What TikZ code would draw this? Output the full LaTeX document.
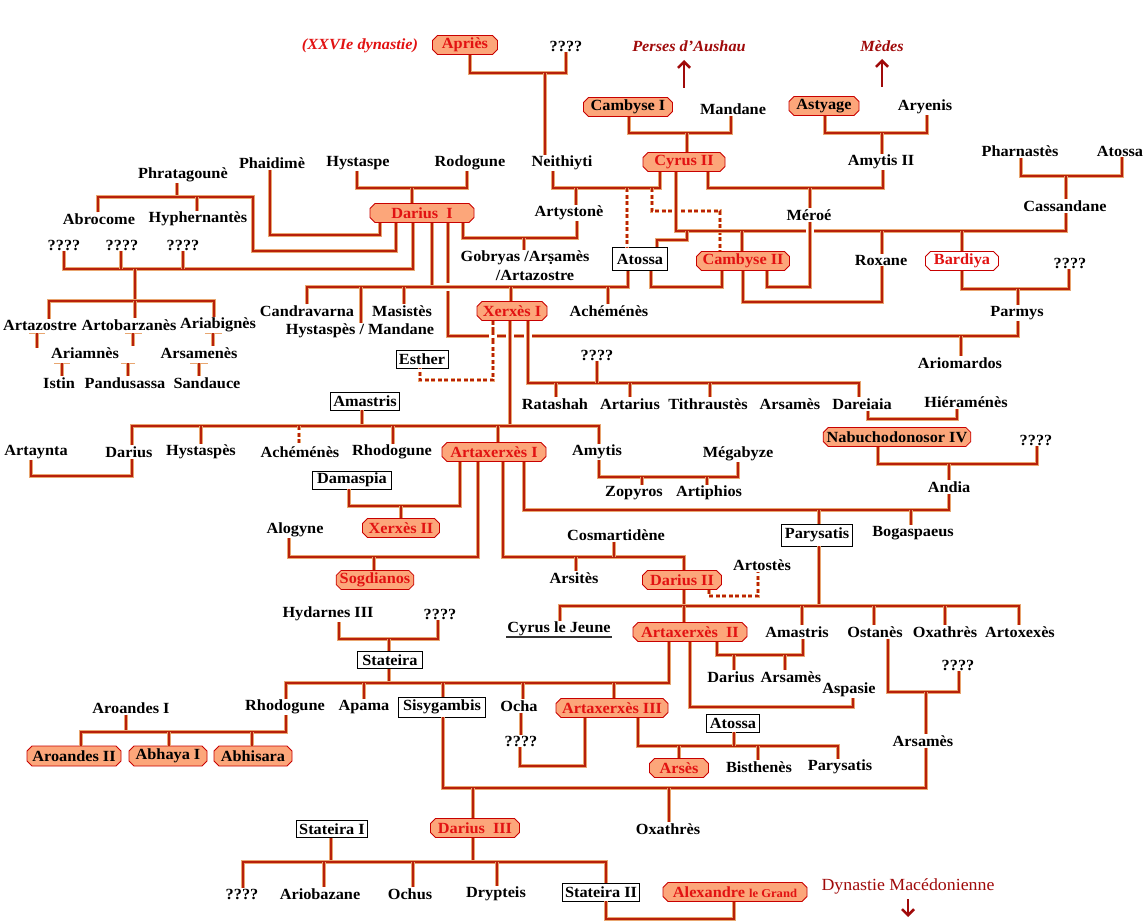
\documentclass[tikz,border=0pt]{standalone}
\usepackage{fontspec}
\setmainfont{Liberation Serif}[FakeStretch=1.05]
\usetikzlibrary{shapes.misc,arrows.meta}
\definecolor{lnred}{RGB}{184,32,10}
\definecolor{lntan}{RGB}{232,166,112}
\definecolor{salm}{RGB}{252,166,122}
\definecolor{kred}{RGB}{200,0,0}
\definecolor{tred}{RGB}{226,18,18}
\definecolor{dred}{RGB}{160,10,10}
\newcommand\ffs{\fontsize{15.5}{17}\selectfont\bfseries}
\newcommand\myvgap[3][ln]{\fill[white] (#2-4,#3-3) rectangle (#2+4,#3+3); \draw[#1] (#2,#3-5) -- (#2,#3+5);}
\newcommand\myhgap[2]{\fill[white] (#1-3,#2-4) rectangle (#1+3,#2+4); \draw[ln] (#1-5,#2) -- (#1+5,#2);}
\begin{document}
\begin{tikzpicture}[x=1pt,y=-1pt,
 every node/.style={font=\ffs, inner sep=1pt},
 kg/.style={chamfered rectangle, chamfered rectangle sep=2.5pt, draw=kred, line width=0.8pt, fill=salm, text=tred, minimum height=19pt, inner xsep=1pt, inner ysep=0pt},
 kgb/.style={kg, text=black},
 kgw/.style={kg, fill=white},
 bx/.style={draw=black, line width=0.9pt, fill=white, inner xsep=3pt, inner ysep=1.5pt, minimum height=18pt},
 ttl/.style={text=tred, font=\ffs\itshape},
 ttd/.style={text=dred, font=\ffs\itshape},
 ln/.style={draw=lnred, line width=1.3pt, preaction={draw=lntan, line width=3.2pt}},
 lnd/.style={draw=lnred, line width=1.3pt, dash pattern=on 4pt off 2.5pt, preaction={draw=lntan, line width=3.2pt, dash pattern=on 4pt off 2.5pt}},
 stub/.style={draw=lntan, line width=1pt},
 arr/.style={draw=dred, line width=2.2pt, -{Straight Barb[length=6pt,width=12pt,line width=2.6pt]}},
]
\fill[white] (0,0) rectangle (1148,923);
\useasboundingbox (0,0) rectangle (1148,923);

% ---------- nodes ----------
\node[ttl] (t26) at (360,46) {(XXVIe dynastie)};
\node[kg, minimum width=65pt] (apries) at (465,45) {Apriès};
\node (q1) at (566,46) {????};
\node[ttd] (perses) at (689,46) {Perses d\char39Aushau};
\node[ttd] (medes) at (882,46) {Mèdes};
\coordinate (pa) at (684,88);
\coordinate (ma) at (882,87);
\node[kgb, minimum width=89pt] (camb1) at (628,107) {Cambyse I};
\node (mandane) at (733,109) {Mandane};
\node[kg, minimum width=82pt] (cyrus2) at (684,162) {Cyrus II};
\node[kgb, minimum width=70pt] (astyage) at (824,106) {Astyage};
\node (aryenis) at (925,107) {Aryenis};
\node (amytis2) at (881,162) {Amytis II};
\node (pharn) at (1020,151) {Pharnastès};
\node (atossa0) at (1120,151) {Atossa};
\node (cassandane) at (1065,206) {Cassandane};
\node (phaidime) at (272,163) {Phaidimè};
\node (hystaspe) at (358,163) {Hystaspe};
\node (rodogune1) at (470,163) {Rodogune};
\node (neith) at (562,163) {Neithiyti};
\node (phrat) at (183,175) {Phratagounè};
\node (abrocome) at (99,219) {Abrocome};
\node (hypher) at (198,219) {Hyphernantès};
\node (q2) at (64,245) {????};
\node (q3) at (122,245) {????};
\node (q4) at (183,245) {????};
\node[kg, minimum width=104pt] (dar1) at (422,213) {Darius\ \ I};
\node (artyst) at (569,213) {Artystonè};
\node (meroe) at (809,215) {Méroé};
\node (gob1) at (525,258) {Gobryas /Ar\d{s}amès};
\node (gob2) at (535,275) {/Artazostre};
\node[bx, minimum width=55pt, minimum height=23pt] (atossa1) at (640,259) {Atossa};
\node[kg, minimum width=93pt] (camb2) at (743,261) {Cambyse II};
\node (roxane) at (881,260) {Roxane};
\node[kgw, minimum width=73pt] (bardiya) at (962,261) {Bardiya};
\node (q5) at (1070,263) {????};
\node (parmys) at (1017,313) {Parmys};
\node (candra) at (307,311) {Candravarna};
\node (masistes) at (402,311) {Masistès};
\node (hystmand) at (360,331) {Hystaspès / Mandane};
\node[kg, minimum width=70pt] (xerx1) at (512,311) {Xerxès I};
\node (achem1) at (609,311) {Achéménès};
\node (artazostre) at (40,325) {Artazostre};
\node (artobar) at (129,325) {Artobarzanès};
\node (ariabig) at (218,325) {Ariabignès};
\node (ariamnes) at (85,353) {Ariamnès};
\node (arsamenes) at (199,353) {Arsamenès};
\node (istin) at (59,383) {Istin};
\node (pandu) at (125,383) {Pandusassa};
\node (sandauce) at (207,383) {Sandauce};
\node[bx, minimum width=51pt] (esther) at (422,359) {Esther};
\node (q6) at (597,355) {????};
\node (ariom) at (960,363) {Ariomardos};
\node[bx, minimum width=66pt] (amastris1) at (365,401) {Amastris};
\node (ratashah) at (555,404) {Ratashah};
\node (artarius) at (630,404) {Artarius};
\node (tith) at (708,404) {Tithraustès};
\node (arsames1) at (790,404) {Arsamès};
\node (dareiaia) at (862,404) {Dareiaia};
\node (hieram) at (966,402) {Hiéraménès};
\node[kgb, minimum width=146pt] (nabu) at (897,437) {Nabuchodonosor IV};
\node (q7) at (1036,440) {????};
\node (artaynta) at (36,452) {Artaynta};
\node (darius2) at (129,452) {Darius};
\node (hyst2) at (201,452) {Hystaspès};
\node (achem2) at (300,452) {Achéménès};
\node (rhodo2) at (392,452) {Rhodogune};
\node[kg, minimum width=104pt] (art1) at (494,452) {Artaxerxès I};
\node (amytis) at (597,452) {Amytis};
\node (megab) at (738,454) {Mégabyze};
\node (andia) at (949,487) {Andia};
\node (zopyros) at (634,493) {Zopyros};
\node (artiph) at (709,493) {Artiphios};
\node[bx, minimum width=79pt] (damaspia) at (352,480) {Damaspia};
\node[kg, minimum width=77pt] (xerx2) at (401,528) {Xerxès II};
\node (alogyne) at (295,530) {Alogyne};
\node (cosm) at (616,535) {Cosmartidène};
\node[bx, minimum width=66pt, minimum height=22pt] (parysatis1) at (817,535) {Parysatis};
\node (bogas) at (913,533) {Bogaspaeus};
\node (artostes) at (762,565) {Artostès};
\node[kg, minimum width=76pt] (sogd) at (375,580) {Sogdianos};
\node (arsites) at (574,578) {Arsitès};
\node[kg, minimum width=79pt] (dar2) at (682,580) {Darius II};
\node (hydarnes) at (328,614) {Hydarnes III};
\node (q8) at (440,614) {????};
\node (cyrusj) at (559,629) {Cyrus le Jeune};
\node[kg, minimum width=114pt] (art2) at (690,632) {Artaxerxès\ \ II};
\node (amastris2) at (797,632) {Amastris};
\node (ostanes) at (875,632) {Ostanès};
\node (oxath1) at (945,632) {Oxathrès};
\node (artox) at (1020,632) {Artoxexès};
\node[bx, minimum width=65pt, minimum height=17pt] (stateira) at (390,660) {Stateira};
\node (q9) at (958,665) {????};
\node (darius3) at (731,677) {Darius};
\node (arsames2) at (791,677) {Arsamès};
\node (aspasie) at (849,690) {Aspasie};
\node (aroandes1) at (131,708) {Aroandes I};
\node (rhodo3) at (285,707) {Rhodogune};
\node (apama) at (364,707) {Apama};
\node[bx, minimum width=87pt, minimum height=20pt] (sisyg) at (442,707) {Sisygambis};
\node (ocha) at (519,706) {Ocha};
\node[kg, minimum width=112pt] (art3) at (612,708) {Artaxerxès III};
\node[bx, minimum width=53pt] (atossa2) at (733,723) {Atossa};
\node (q10) at (521,741) {????};
\node (arsames3) at (923,741) {Arsamès};
\node[kgb, minimum width=94pt, minimum height=20pt] (aroandes2) at (74,756) {Aroandes II};
\node[kgb, minimum width=78pt, minimum height=20pt] (abhaya) at (168,756) {Abhaya I};
\node[kgb, minimum width=78pt, minimum height=20pt] (abhisara) at (253,756) {Abhisara};
\node[kg, minimum width=59pt] (arses) at (679,768) {Arsès};
\node (bisth) at (759,767) {Bisthenès};
\node (parysatis2) at (840,767) {Parysatis};
\node[bx, minimum width=70pt, minimum height=17pt] (stateira1) at (332,829) {Stateira I};
\node[kg, minimum width=89pt] (dar3) at (475,828) {Darius\ \ III};
\node (oxath2) at (668,829) {Oxathrès};
\node[text=dred, font=\fontsize{17}{19}\selectfont] (dynmac) at (908,886) {Dynastie Macédonienne};
\coordinate (da) at (908,899);
\node (q11) at (242,894) {????};
\node (ariob) at (320,894) {Ariobazane};
\node (ochus) at (410,894) {Ochus};
\node (drypt) at (496,894) {Drypteis};
\node[bx, minimum width=76pt] (stateira2) at (601,892) {Stateira II};
\node[kg, minimum width=144pt] (alex) at (735,892) {Alexandre {\fontsize{12}{14}\selectfont le Grand}};

% ---------- arrows ----------
\draw[arr] (pa) -- (684,60);
\draw[arr] (ma) -- (882,59);
\draw[arr] (da) -- (908,917);
\draw[line width=1.6pt, black!80] ([yshift=-4pt]cyrusj.base west) -- ([yshift=-4pt]cyrusj.base east);

% ---------- connectors ----------
\draw[ln] (470,0 |- apries.south) |- (566,73) -- (566,0 |- q1.south);
\draw[ln] (545,73) -- (545,0 |- neith.north);
\draw[ln] (629,0 |- camb1.south) |- (731,133) -- (731,0 |- mandane.south);
\draw[ln] (687,133) -- (687,0 |- cyrus2.north);
\draw[ln] (825,0 |- astyage.south) |- (927,133) -- (927,0 |- aryenis.south);
\draw[ln] (882,133) -- (882,0 |- amytis2.north);
\draw[ln] (1021,0 |- pharn.south) |- (1122,176) -- (1122,0 |- atossa0.south);
\draw[ln] (1066,176) -- (1066,0 |- cassandane.north);
\draw[ln] (357,0 |- hystaspe.south) |- (467,188) -- (467,0 |- rodogune1.south);
\draw[ln] (412,188) -- (412,0 |- dar1.north);
\draw[ln] (553,0 |- neith.south) |- (660,188) -- (660,0 |- cyrus2.south);
\draw[ln] (576,188) -- (576,0 |- artyst.north);
\draw[lnd] (627,188) -- (627,0 |- atossa1.north);
\draw[lnd] (652,188) |- (720,211) -- (720,0 |- camb2.north);
\draw[ln] (708,0 |- cyrus2.south) |- (883,188) -- (883,0 |- amytis2.south);
\draw[ln] (810,188) -- (810,0 |- meroe.north);
\draw[ln] (676,0 |- cyrus2.south) |- (1066,231) -- (1066,0 |- cassandane.south);
\draw[ln] (687,231) |- (657,240) -- (657,0 |- atossa1.north);
\draw[ln] (742,231) -- (742,0 |- camb2.north);
\draw[ln] (882,231) -- (882,0 |- roxane.north);
\draw[ln] (962,231) -- (962,0 |- bardiya.north);
\draw[ln] (810,0 |- meroe.south) |- (767,287) -- (767,0 |- camb2.south);
\draw[ln] (882,0 |- roxane.south) |- (743,302) -- (743,0 |- camb2.south);
\draw[ln] (651,0 |- atossa1.south) |- (722,287) -- (722,0 |- camb2.south);
\draw[ln] (962,0 |- bardiya.south) |- (1069,289) -- (1069,0 |- q5.south);
\draw[ln] (1018,289) -- (1018,0 |- parmys.north);
% Phratagoune
\draw[ln] (177,0 |- phrat.south) -- (177,197);
\draw[ln] (98,0 |- abrocome.north) |- (253,197) |- (396,251) -- (396,0 |- dar1.south);
\draw[ln] (197,197) -- (197,0 |- hypher.north);
\draw[ln] (270,0 |- phaidime.south) |- (380,235) -- (380,0 |- dar1.south);
\draw[ln] (64,0 |- q2.south) |- (413,269) -- (413,0 |- dar1.south);
\draw[ln] (121,0 |- q3.south) -- (121,269);
\draw[ln] (183,0 |- q4.south) -- (183,269);
\draw[ln] (135,269) -- (135,301);
\draw[ln] (49,0 |- artazostre.north) |- (135,301) -| (214,0 |- ariabig.north);
\draw[ln] (135,301) -- (135,0 |- artobar.north);
% stubs
\draw[stub] (29,333) -- (45,333); \draw[ln] (37,333) -- (37,348);
\draw[stub] (125,333) -- (142,333); \draw[ln] (133,333) -- (133,0 |- ariamnes.north);
\draw[stub] (205,333) -- (222,333); \draw[ln] (213,333) -- (213,0 |- arsamenes.north);
\draw[stub] (54,363) -- (70,363); \draw[ln] (62,363) -- (62,0 |- istin.north);
\draw[stub] (121,363) -- (135,363); \draw[ln] (128,363) -- (128,0 |- pandu.north);
\draw[stub] (190,363) -- (208,363); \draw[ln] (199,363) -- (199,0 |- sandauce.north);
% Darius I
\draw[ln] (463,0 |- dar1.south) |- (577,238) -- (577,0 |- artyst.south);
\draw[ln] (524,238) -- (524,0 |- gob1.north);
\draw[ln] (448,0 |- dar1.south) |- (1018,336) -- (1018,0 |- parmys.south);
\draw[ln] (961,336) -- (961,0 |- ariom.north);
\draw[ln] (432,0 |- dar1.south) -- (432,287);
\draw[ln] (307,0 |- candra.north) |- (628,287) -- (628,0 |- atossa1.south);
\myhgap{448}{287}
\draw[ln] (361,287) -- (361,0 |- hystmand.north);
\draw[ln] (404,287) -- (404,0 |- masistes.north);
\draw[ln] (511,287) -- (511,0 |- xerx1.north);
\draw[ln] (608,287) -- (608,0 |- achem1.north);
% Xerxes I
\draw[lnd] (493,0 |- xerx1.south) |- (420,380) -- (420,0 |- esther.south);
\draw[ln] (510,0 |- xerx1.south) -- (510,426);
\draw[ln] (528,0 |- xerx1.south) |- (859,383) -- (859,0 |- dareiaia.north);
\myvgap[lnd]{493}{336}
\myvgap{510}{336}
\myvgap{528}{336}
\draw[ln] (597,0 |- q6.south) -- (597,383);
\draw[ln] (556,383) -- (556,0 |- ratashah.north);
\draw[ln] (630,383) -- (630,0 |- artarius.north);
\draw[ln] (710,383) -- (710,0 |- tith.north);
% Amastris
\draw[ln] (362,0 |- amastris1.south) -- (362,426);
\draw[ln] (132,0 |- darius2.north) |- (599,426) -- (599,0 |- amytis.north);
\draw[ln] (201,426) -- (201,0 |- hyst2.north);
\draw[lnd] (299,426) -- (299,0 |- achem2.north);
\draw[ln] (393,426) -- (393,0 |- rhodo2.north);
\draw[ln] (498,426) -- (498,0 |- art1.north);
\draw[ln] (31,0 |- artaynta.south) |- (132,476) -- (132,0 |- darius2.south);
\draw[ln] (599,0 |- amytis.south) |- (738,477) -- (738,0 |- megab.south);
\draw[ln] (642,477) -- (642,0 |- zopyros.north);
\draw[ln] (707,477) -- (707,0 |- artiph.north);
\draw[ln] (868,0 |- dareiaia.south) |- (957,419) -- (957,0 |- hieram.south);
\draw[ln] (878,0 |- nabu.south) |- (1037,464) -- (1037,0 |- q7.south);
\draw[ln] (949,464) -- (949,0 |- andia.north);
% Artaxerxes I
\draw[ln] (524,0 |- art1.south) |- (949,510) -- (949,0 |- andia.south);
\draw[ln] (819,510) -- (819,0 |- parysatis1.north);
\draw[ln] (911,510) -- (911,0 |- bogas.north);
\draw[ln] (349,0 |- damaspia.south) |- (460,506) -- (460,0 |- art1.south);
\draw[ln] (401,506) -- (401,0 |- xerx2.north);
\draw[ln] (289,0 |- alogyne.south) |- (478,557) -- (478,0 |- art1.south);
\draw[ln] (374,557) -- (374,0 |- sogd.north);
\draw[ln] (503,0 |- art1.south) |- (684,557) -- (684,0 |- dar2.north);
\draw[ln] (614,0 |- cosm.south) -- (614,557);
\draw[ln] (576,557) -- (576,0 |- arsites.north);
% Darius II
\draw[lnd] (709,0 |- dar2.south) |- (758,596) -- (758,0 |- artostes.south);
\draw[ln] (684,0 |- dar2.south) -- (684,606);
\draw[ln] (819,0 |- parysatis1.south) -- (819,606);
\draw[ln] (560,0 |- cyrusj.north) |- (1019,606) -- (1019,0 |- artox.north);
\draw[ln] (684,606) -- (684,0 |- art2.north);
\draw[ln] (802,606) -- (802,0 |- amastris2.north);
\draw[ln] (874,606) -- (874,0 |- ostanes.north);
\draw[ln] (945,606) -- (945,0 |- oxath1.north);
% Artaxerxes II
\draw[ln] (717,0 |- art2.south) |- (803,655) -- (803,0 |- amastris2.south);
\draw[ln] (734,655) -- (734,0 |- darius3.north);
\draw[ln] (785,655) -- (785,0 |- arsames2.north);
\draw[ln] (690,0 |- art2.south) |- (853,707) -- (853,0 |- aspasie.south);
\draw[ln] (888,0 |- ostanes.south) |- (959,692) -- (959,0 |- q9.south);
\draw[ln] (926,692) -- (926,0 |- arsames3.north);
\draw[ln] (926,0 |- arsames3.south) |- (443,788) -- (443,0 |- sisyg.south);
\draw[ln] (473,788) -- (473,0 |- dar3.north);
\draw[ln] (669,788) -- (669,0 |- oxath2.north);
\draw[ln] (339,0 |- hydarnes.south) |- (438,639) -- (438,0 |- q8.south);
\draw[ln] (389,639) -- (389,0 |- stateira.north);
\draw[ln] (389,0 |- stateira.south) -- (389,683);
\draw[ln] (286,0 |- rhodo3.north) |- (669,683) -- (669,0 |- art2.south);
\draw[ln] (364,683) -- (364,0 |- apama.north);
\draw[ln] (443,683) -- (443,0 |- sisyg.north);
\draw[ln] (523,683) -- (523,0 |- ocha.north);
\draw[ln] (614,683) -- (614,0 |- art3.north);
\draw[ln] (521,0 |- ocha.south) -- (521,0 |- q10.north);
\draw[ln] (520,0 |- q10.south) |- (585,766) -- (585,0 |- art3.south);
\draw[ln] (638,0 |- art3.south) |- (838,746) -- (838,0 |- parysatis2.north);
\draw[ln] (734,0 |- atossa2.south) -- (734,746);
\draw[ln] (679,746) -- (679,0 |- arses.north);
\draw[ln] (758,746) -- (758,0 |- bisth.north);
\draw[ln] (126,0 |- aroandes1.south) -- (126,732);
\draw[ln] (81,0 |- aroandes2.north) |- (286,732) -- (286,0 |- rhodo3.south);
\draw[ln] (169,732) -- (169,0 |- abhaya.north);
\draw[ln] (252,732) -- (252,0 |- abhisara.north);
% Darius III
\draw[ln] (331,0 |- stateira1.south) -- (331,862);
\draw[ln] (473,0 |- dar3.south) -- (473,862);
\draw[ln] (243,0 |- q11.north) |- (606,862) -- (606,0 |- stateira2.north);
\draw[ln] (324,862) -- (324,0 |- ariob.north);
\draw[ln] (413,862) -- (413,0 |- ochus.north);
\draw[ln] (497,862) -- (497,0 |- drypt.north);
\draw[ln] (606,0 |- stateira2.south) |- (734,919) -- (734,0 |- alex.south);
% crossings
\myvgap{810}{231}
\myvgap{676}{211}
\end{tikzpicture}
\end{document}
